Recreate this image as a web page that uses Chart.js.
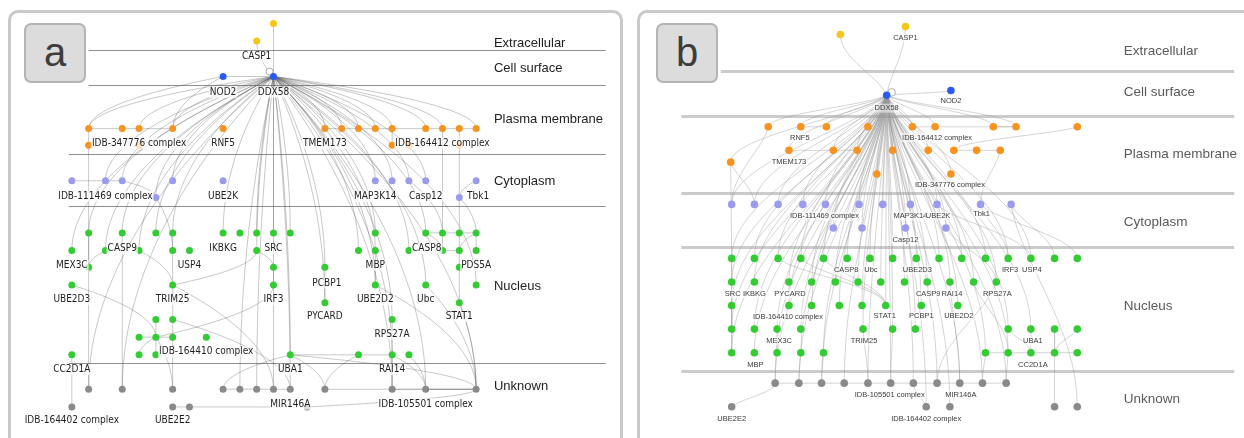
<!DOCTYPE html>
<html>
<head>
<meta charset="utf-8">
<script src="https://cdn.jsdelivr.net/npm/chart.js@4.4.1/dist/chart.umd.min.js"></script>
<style>
  body { margin: 0; width: 1244px; height: 438px; overflow: hidden; position: relative; background: #fff;
         font-family: "Liberation Sans", Arial, sans-serif; }
  .panel { position: absolute; top: 10px; height: 440px; border: 3px solid #c9c9c9; border-radius: 10px; background: #fff; }
  #panelA { left: 8px; width: 609px; }
  #panelB { left: 637px; width: 640px; }
  .tag { position: absolute; top: 23px; width: 58px; height: 56px; background: #dcdcdc; border: 2px solid #b4b4b4;
         border-radius: 7px; font-size: 40px; color: #3c3c3c; text-align: center; line-height: 54px; z-index: 5; }
  #tagA { left: 24px; }
  #tagB { left: 656px; }
  canvas { position: absolute; top: 13px; z-index: 2; }
  #chartA { left: 11px; }
  #chartB { left: 640px; }
</style>
</head>
<body>
<div class="panel" id="panelA"></div>
<div class="panel" id="panelB"></div>
<canvas id="chartA" width="609" height="425"></canvas>
<canvas id="chartB" width="604" height="425"></canvas>
<div class="tag" id="tagA">a</div>
<div class="tag" id="tagB">b</div>
<script>
// ---------- panel a data ----------
const aYellow = [[273,20],[256,38]];
const aBlue = [[222,74],[273,74]];   // NOD2, DDX58
const aOrange = [[86,127],[120,127],[137,127],[171,127],[222,127],[325,127],[342,127],[359,127],[376,127],[393,127],
  [427,127],[444,127],[461,127],[478,127],[86,144],[393,144],[137,144],[410,144],[461,144]];
const aPurple = [[69,180],[103,180],[120,180],[171,180],[222,180],[154,197],[376,180],[393,180],[410,180],[427,180],
  [478,180],[461,197]];
const aGreen = [
  [86,233],[120,233],[154,233],[171,233],[222,233],[239,233],[256,233],[273,233],[290,233],[376,233],[427,233],[444,233],[461,233],[478,233],
  [69,251],[103,251],[137,251],[171,251],[188,251],[256,251],[359,251],[376,251],[410,251],[444,251],[461,251],[478,251],
  [86,268],[273,268],[325,268],[461,268],
  [69,286],[171,286],[273,286],[376,286],[427,286],[478,286],
  [325,304],[461,304],
  [154,321],[171,321],[393,321],
  [137,339],[154,339],[171,339],[205,339],
  [69,357],[137,357],[154,357],[290,357],[359,357],[393,357],[410,357]];
const aGray = [[86,392],[120,392],[171,392],[222,392],[239,392],[256,392],[273,392],[290,392],[325,392],[393,392],[427,392],[478,392],
  [69,410],[171,410],[188,410],[307,410]];
const aHub = "b1";
const aHubTargets = "y0 y1 b0 o0 o2 o3 o5 o6 o7 o8 o9 o10 o11 o13 p1 p2 p3 p5 p6 p7 p8 p9 g0 g1 g2 g3 g4 g6 g7 g8 g9 g10 g14 g15 g16 g19 g20 g21 g22 g33 g34 g36 g48 k0 k1 k4 k5 k6 k7 k9 k10 k11 g40 g50 g28 g35";
const aEdges = "b0-o0 b0-o3 o0-o1 o1-o2 o2-o3 o5-o6 o6-o7 o7-o8 o8-o9 o9-o10 o10-o11 o11-o12 o12-o13 o9-o15 o0-o14 o14-g26 " +
  "p0-p1 p1-p2 p2-p5 p5-g17 p10-p11 p11-g13 p11-g24 p8-g11 o12-p11 o11-g23 g10-g11 g11-g12 g12-g13 g10-g23 g13-g24 g23-g24 " +
  "g13-g25 g24-g29 g29-g37 g15-g26 g16-g31 g31-g19 g31-k6 g30-g42 g38-g42 g41-g42 g42-g43 g42-g46 g42-g47 g42-k2 g42-g32 " +
  "g39-k7 g45-k12 g19-g27 g27-g32 g48-k3 g48-k8 g48-g50 g48-k11 g49-k8 g50-k9 g51-k10 g50-k10 k3-k4 k4-k5 k5-k6 k6-k7 " +
  "k13-k14 k14-k15 k15-k11 k9-k11 k10-k11 k8-k11 g33-k11 g34-k11 g21-g33 g0-k0 g1-k1 g3-k2 g36-g28 g40-k9 g37-k11";
const aLoops = [[269,69]];
const aBands = [[47,86],[83,86],[153,66],[206,66],[365,66]];
const aBandNames = [["Extracellular",40],["Cell surface",66],["Plasma membrane",118],["Cytoplasm",181],["Nucleus",287],["Unknown",389]];
const aLabels = [
  ["CASP1",256,54],["NOD2",222,90],["DDX58",273,90],
  ["IDB-347776 complex",137,142],["RNF5",222,142],["TMEM173",325,142],["IDB-164412 complex",444,142],
  ["IDB-111469 complex",103,196],["UBE2K",222,196],["MAP3K14",376,196],["Casp12",427,196],["Tbk1",480,196],
  ["CASP9",120,249],["IKBKG",222,249],["SRC",273,249],["CASP8",428,249],
  ["MEX3C",69,266],["USP4",188,266],["MBP",376,266],["PDS5A",478,266],["PCBP1",327,284],
  ["UBE2D3",69,301],["TRIM25",171,301],["IRF3",273,301],["UBE2D2",376,301],["Ubc",427,301],
  ["PYCARD",325,318],["STAT1",461,318],["RPS27A",393,336],["IDB-164410 complex",205,354],
  ["CC2D1A",69,372],["UBA1",290,372],["RAI14",393,372],
  ["MIR146A",290,407],["IDB-105501 complex",427,407],["IDB-164402 complex",69,424],["UBE2E2",171,424]];

// ---------- panel b data ----------
const bYellow = [[839,31],[905,23]];
const bBlue = [[886,93],[951,88]];   // DDX58, NOD2
const bOrange = [[766,125],[799,125],[825,125],[867,125],[912,125],[935,125],[994,125],[1017,125],[1079,125],
  [787,149],[832,149],[856,149],[892,149],[928,149],[954,149],[977,149],[1001,149],
  [728,161],[876,173],[951,173]];
const bPurple = [[729,204],[752,204],[776,204],[801,204],[824,204],[858,204],[882,204],[910,204],[937,204],[981,204],[1012,204],
  [832,228],[861,228],[905,228],[946,228]];
const bGreen = [
  [729,259],[752,259],[776,259],[799,259],[822,259],[846,259],[869,259],[892,259],[916,259],[939,259],[962,259],[986,259],[1009,259],[1032,259],[1056,259],[1079,259],
  [729,283],[752,283],[787,283],[810,283],[834,283],[857,283],[880,283],[904,283],[927,283],[950,283],[974,283],[997,283],
  [729,307],[787,307],[810,307],[838,307],[861,307],[885,307],[921,307],[958,307],
  [729,331],[752,331],[775,331],[799,331],[862,331],[892,331],[915,331],[1009,331],[1032,331],[1056,331],[1079,331],
  [729,355],[752,355],[775,355],[799,355],[822,355],[986,355],[1009,355],[1032,355],[1056,355],[1079,355]];
const bGray = [[773,386],[797,386],[820,386],[843,386],[867,386],[890,386],[913,386],[937,386],[960,386],[983,386],[1007,386],
  [729,410],[926,410],[950,410],[1056,410],[1079,410]];
const bHub = "b0";
const bHubTargets = "y0 y1 b1 o0 o1 o2 o3 o4 o5 o6 o7 o9 o10 o11 o12 o13 o17 o18 o19 p0 p1 p2 p3 p4 p5 p6 p7 p8 p11 p12 p13 p14 " +
  "g0 g1 g2 g3 g4 g5 g6 g7 g8 g9 g10 g11 g12 g13 g16 g17 g18 g19 g20 g21 g22 g23 g24 g25 g26 g27 g28 g29 g30 g31 g32 g33 g34 g35 " +
  "g36 g37 g38 g39 g40 g41 g42 g43 g44 g47 g48 g49 g50 g51 g52 g53 k0 k1 k2 k3 k4 k5 k6 k7 k8 k9 k10 k12 k13";
const bEdges = "o1-o2 o4-o5 o6-o7 o9-o10 o10-o11 o14-o15 o15-o16 o8-o14 o5-o7 o17-p1 o17-g16 o0-p0 o16-p9 p9-g15 p10-g14 p10-k15 " +
  "p8-g13 p9-g12 g45-k14 g46-g55 g43-g54 g44-g54 g52-g53 g53-g54 g54-g55 g55-g56 g45-g55 g2-g33 g3-g33 g4-g33 g0-g47 g16-g36 " +
  "g28-g47 g38-k0 g50-k1 g51-k2 g40-k4 g41-k5 k0-k1 k1-k2 k2-k3 k3-k4 k4-k5 k5-k6 k6-k7 k7-k8 k8-k9 k9-k10 k11-k0 k12-k6 " +
  "g52-k9 g53-k10 g25-k8 g26-g53 p14-g27 g27-k7";
const bLoops = [[891,90]];
const bBands = [[68,718],[114,678],[192,678],[247,678],[374,678]];
const bBandNames = [["Extracellular",48],["Cell surface",90],["Plasma membrane",153],["Cytoplasm",222],["Nucleus",308],["Unknown",402]];
const bLabels = [
  ["CASP1",905,35],["DDX58",886,106],["NOD2",951,99],
  ["RNF5",798,136],["IDB-164412 complex",937,136],["TMEM173",787,161],["IDB-347776 complex",950,184],
  ["IDB-111469 complex",823,216],["MAP3K14",910,216],["UBE2K",938,216],["Tbk1",982,214],["Casp12",905,240],
  ["CASP8",845,271],["Ubc",870,271],["UBE2D3",917,271],["IRF3",1011,271],["USP4",1033,271],
  ["SRC",730,295],["IKBKG",752,295],["PYCARD",788,295],["CASP9",928,295],["RAI14",952,295],["RPS27A",998,295],
  ["IDB-164410 complex",786,319],["STAT1",884,318],["PCBP1",921,318],["UBE2D2",959,318],
  ["MEX3C",777,343],["TRIM25",863,343],["UBA1",1034,343],["MBP",753,367],["CC2D1A",1034,367],
  ["IDB-105501 complex",889,398],["MIR146A",961,398],["UBE2E2",729,422],["IDB-164402 complex",926,422]];

const nodeColors = { y: "#f5c518", b: "#2a5cf2", o: "#f7931e", p: "#9b9bee", g: "#33cc33", k: "#8a8a8a" };

function nodeMap(groups) {
  const m = {};
  for (const k in groups) groups[k].forEach((p, i) => { m[k + i] = p; });
  return m;
}

function makeChart(canvasId, groups, cfg) {
  const nodes = nodeMap(groups);
  const datasets = Object.keys(groups).map(k => ({
    data: groups[k].map(p => ({ x: p[0], y: p[1] })),
    backgroundColor: nodeColors[k],
    borderWidth: 0,
    pointRadius: cfg.radius,
    pointHoverRadius: cfg.radius
  }));

  const pairs = cfg.hubTargets.split(" ").map(t => [cfg.hub, t])
    .concat(cfg.edges.split(" ").map(e => e.split("-")));

  const backdrop = {
    id: "backdrop",
    beforeDatasetsDraw(chart) {
      const ctx = chart.ctx, xs = chart.scales.x, ys = chart.scales.y;
      ctx.save();
      // compartment lines
      ctx.strokeStyle = cfg.bandColor;
      ctx.lineWidth = cfg.bandWidth;
      cfg.bands.forEach(b => {
        const y = Math.round(ys.getPixelForValue(b[0])) + (cfg.bandWidth % 2 ? 0.5 : 0);
        ctx.beginPath();
        ctx.moveTo(xs.getPixelForValue(b[1]), y);
        ctx.lineTo(xs.getPixelForValue(cfg.bandEnd), y);
        ctx.stroke();
      });
      ctx.fillStyle = cfg.bandText;
      ctx.font = cfg.bandFont;
      ctx.textBaseline = "middle";
      cfg.bandNames.forEach(n => ctx.fillText(n[0], xs.getPixelForValue(cfg.bandLabelX), ys.getPixelForValue(n[1])));

      // edges
      ctx.strokeStyle = cfg.edgeColor;
      ctx.lineWidth = 0.8;
      const bend = cfg.bend;
      pairs.forEach(([a, b]) => {
        const sx = xs.getPixelForValue(nodes[a][0]), sy = ys.getPixelForValue(nodes[a][1]);
        const tx = xs.getPixelForValue(nodes[b][0]), ty = ys.getPixelForValue(nodes[b][1]);
        const dx = tx - sx, dy = ty - sy;
        ctx.beginPath();
        ctx.moveTo(sx, sy);
        ctx.bezierCurveTo(sx + dx * bend[0], sy + dy * bend[1], tx - dx * bend[2], ty - dy * bend[3], tx, ty);
        ctx.stroke();
      });
      // self loops
      ctx.strokeStyle = "#999";
      ctx.fillStyle = "#fff";
      cfg.loops.forEach(l => {
        ctx.beginPath();
        ctx.arc(xs.getPixelForValue(l[0]), ys.getPixelForValue(l[1]), cfg.radius, 0, Math.PI * 2);
        ctx.fill();
        ctx.stroke();
      });
      ctx.restore();
    }
  };

  const nodeLabels = {
    id: "nodeLabels",
    afterDatasetsDraw(chart) {
      const ctx = chart.ctx, xs = chart.scales.x, ys = chart.scales.y;
      ctx.save();
      ctx.font = cfg.labelFont;
      ctx.textAlign = "center";
      ctx.textBaseline = "middle";
      cfg.labels.forEach(l => {
        const x = xs.getPixelForValue(l[1]), y = ys.getPixelForValue(l[2]);
        const w = ctx.measureText(l[0]).width;
        ctx.fillStyle = cfg.labelBg;
        ctx.fillRect(x - w / 2 - 1, y - cfg.labelH / 2, w + 2, cfg.labelH);
        ctx.fillStyle = cfg.labelColor;
        ctx.fillText(l[0], x, y);
      });
      ctx.restore();
    }
  };

  return new Chart(document.getElementById(canvasId), {
    type: "scatter",
    data: { datasets: datasets },
    options: {
      responsive: false,
      animation: false,
      events: [],
      layout: { padding: 0 },
      scales: {
        x: { type: "linear", min: cfg.xMin, max: cfg.xMax, display: false },
        y: { type: "linear", min: 13, max: 438, reverse: true, display: false }
      },
      plugins: { legend: { display: false }, tooltip: { enabled: false } }
    },
    plugins: [backdrop, nodeLabels]
  });
}

makeChart("chartA", { y: aYellow, b: aBlue, o: aOrange, p: aPurple, g: aGreen, k: aGray }, {
  xMin: 11, xMax: 620, radius: 3.5,
  hub: aHub, hubTargets: aHubTargets, edges: aEdges, loops: aLoops,
  bend: [0.6, 0.3, 0, 0.35], edgeColor: "rgba(90,90,90,0.42)",
  bands: aBands, bandEnd: 609, bandColor: "#8e8e8e", bandWidth: 1,
  bandNames: aBandNames, bandLabelX: 496, bandText: "#222",
  bandFont: '13px "Liberation Sans", Arial, sans-serif',
  labels: aLabels, labelFont: '10px "DejaVu Sans Condensed", "DejaVu Sans", sans-serif',
  labelColor: "#1e1e1e", labelBg: "rgba(255,255,255,0.72)", labelH: 11
});

makeChart("chartB", { y: bYellow, b: bBlue, o: bOrange, p: bPurple, g: bGreen, k: bGray }, {
  xMin: 640, xMax: 1244, radius: 3.8,
  hub: bHub, hubTargets: bHubTargets, edges: bEdges, loops: bLoops,
  bend: [0.15, 0.3, 0, 0.4], edgeColor: "rgba(150,150,150,0.5)",
  bands: bBands, bandEnd: 1238, bandColor: "#cbcbcb", bandWidth: 3,
  bandNames: bBandNames, bandLabelX: 1126, bandText: "#5a5a5a",
  bandFont: '13.5px "Liberation Sans", Arial, sans-serif',
  labels: bLabels, labelFont: '7.5px "Liberation Sans", Arial, sans-serif',
  labelColor: "#3a3a3a", labelBg: "rgba(255,255,255,0.55)", labelH: 9
});
</script>
</body>
</html>
